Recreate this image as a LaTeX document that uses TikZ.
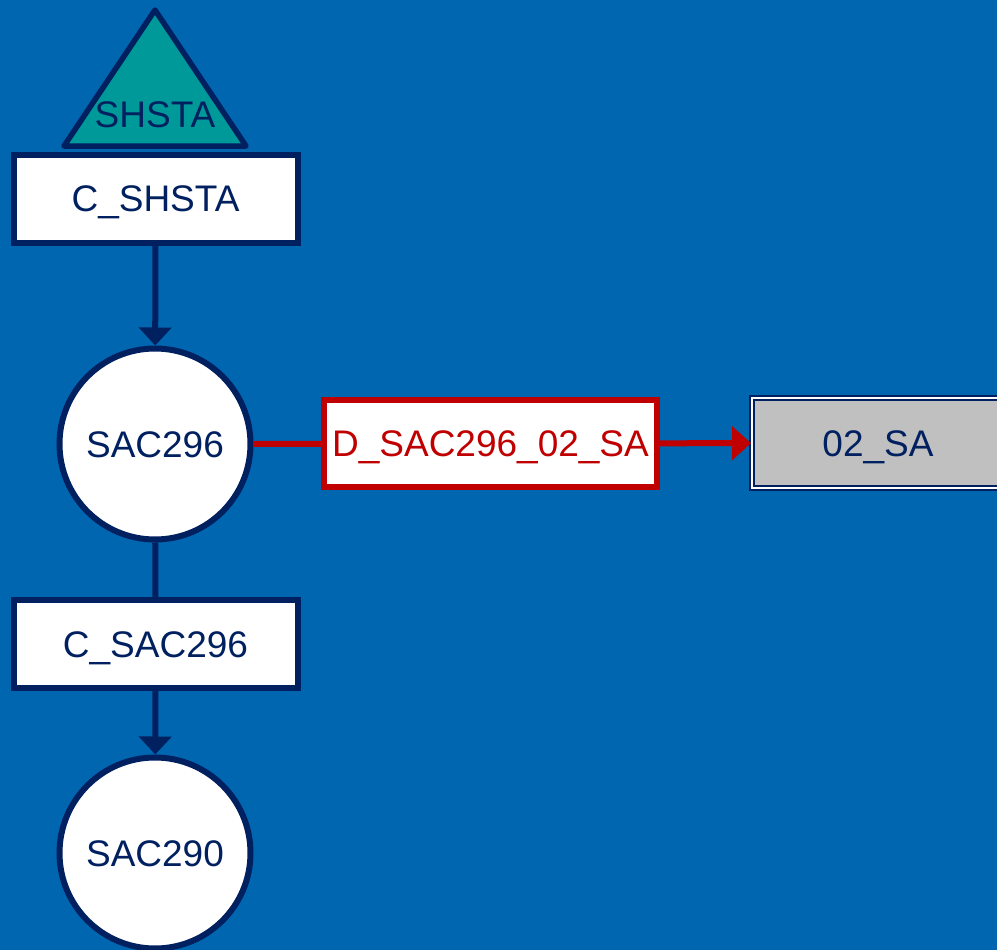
\documentclass[tikz,border=0pt]{standalone}
\usepackage{fontspec}
\setmainfont{Liberation Sans}
\usetikzlibrary{arrows.meta}
\definecolor{bgblue}{HTML}{0066B0}
\definecolor{navy}{HTML}{002060}
\definecolor{teal2}{HTML}{009999}
\definecolor{darkred}{HTML}{C00000}
\definecolor{boxgray}{HTML}{C0C0C0}
\tikzset{
  lbl/.style={font=\fontsize{37}{40}\selectfont, inner sep=0pt,
    text height=26pt, text depth=0pt},
  whitebox/.style={lbl, draw=navy, fill=white, line width=6pt, text=navy,
    minimum width=284pt, minimum height=88pt},
  redbox/.style={lbl, draw=darkred, fill=white, line width=6pt, text=darkred,
    minimum width=333pt, minimum height=87pt},
  graybox/.style={lbl, draw=navy, double=white, double distance=1.6pt, line width=1.9pt,
    fill=boxgray, text=navy, minimum width=252pt, minimum height=90pt},
  junction/.style={lbl, circle, draw=navy, fill=white, line width=6pt, text=navy,
    minimum size=191pt},
  flow/.style={draw=navy, line width=6pt},
  flowarrow/.style={flow, -{Triangle[width=32pt,length=18pt]}},
  redflow/.style={draw=darkred, line width=6pt},
  redarrow/.style={redflow, -{Triangle[width=33pt,length=19pt]}},
}
\begin{document}
\begin{tikzpicture}[x=1pt,y=-1pt]
  \useasboundingbox (0,0) rectangle (997,950);
  \fill[bgblue] (0,0) rectangle (997,950);
  \begin{scope}
    \clip (0,0) rectangle (997,950);
    % source reservoir
    \draw[navy, fill=teal2, line width=5.5pt, line join=round]
      (155,10) -- (246,146) -- (64,146) -- cycle;
    \node[lbl, text=navy] (shsta) at (155,115) {SHSTA};
    % boxes and junctions
    \node[whitebox, text depth=-2pt] (cshsta) at (155.5,198.5) {C\_SHSTA};
    \node[junction] (sac296) at (155,444) {SAC296};
    \node[redbox] (dsac) at (490.5,443.5) {D\_SAC296\_02\_SA};
    \node[graybox] (sa02) at (878,443) {02\_SA};
    \node[whitebox, text depth=-2pt] (csac296) at (155.5,644) {C\_SAC296};
    \node[junction] (sac290) at (155,853) {SAC290};
    % connectors
    \draw[flowarrow] (cshsta) -- (sac296);
    \draw[redflow] (sac296) -- (dsac);
    \draw[redarrow] (dsac) -- (sa02);
    \draw[flow] (sac296) -- (csac296);
    \draw[flowarrow] (csac296) -- (sac290);
  \end{scope}
\end{tikzpicture}
\end{document}
